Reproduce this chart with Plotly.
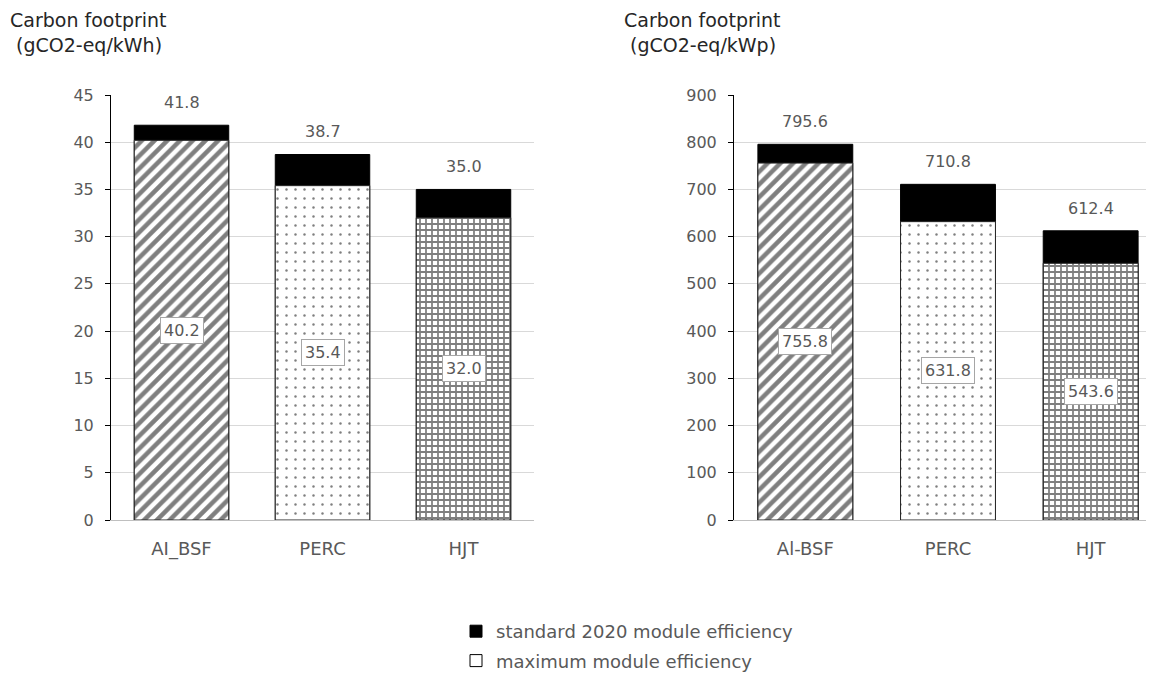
import plotly.graph_objects as go

cats_left = ["AI_BSF", "PERC", "HJT"]
cats_right = ["Al-BSF", "PERC", "HJT"]
std_kwh = [41.8, 38.7, 35.0]
max_kwh = [40.2, 35.4, 32.0]
std_kwp = [795.6, 710.8, 612.4]
max_kwp = [755.8, 631.8, 543.6]
patterns = ["/", ".", "+"]
legend_names = ["standard 2020 module efficiency", "maximum module efficiency"]
titles = ["Carbon footprint<br> (gCO2-eq/kWh)", "Carbon footprint<br> (gCO2-eq/kWp)"]

FONT = "DejaVu Sans"
GREY = "#595959"
W, H = 1154, 675
OFF = 8  # page body margin


def px(xw):
    return (xw - OFF) / W


def py(yw):
    return 1 - (yw - OFF) / H


fig = go.Figure()

panels = [
    (cats_left, std_kwh, max_kwh, "x", "y", 0.67),
    (cats_right, std_kwp, max_kwp, "x2", "y2", 0.665),
]
annotations = []
for i, (cats, std, mx, xa, ya, bw) in enumerate(panels):
    fig.add_trace(go.Bar(
        x=cats, y=std, xaxis=xa, yaxis=ya, width=bw,
        marker=dict(color="black", line=dict(color="black", width=1)),
        name=legend_names[0], showlegend=(i == 0), legendgroup="a",
        hoverinfo="y",
    ))
    fig.add_trace(go.Bar(
        x=cats, y=mx, xaxis=xa, yaxis=ya, width=bw,
        marker=dict(color="white",
                    line=dict(color="#262626", width=1),
                    pattern=dict(shape=patterns, fgcolor="black", bgcolor="white",
                                 size=[9, 9, 6], solidity=[0.5, 0.06, 0.5],
                                 fillmode="overlay")),
        name=legend_names[1], showlegend=False, hoverinfo="y",
    ))
    for c, s, m in zip(cats, std, mx):
        annotations.append(dict(x=c, y=s, xref=xa, yref=ya, text=f"{s:.1f}", showarrow=False,
                                yanchor="bottom", yshift=11,
                                font=dict(family=FONT, size=16, color=GREY)))
        annotations.append(dict(x=c, y=m / 2, xref=xa, yref=ya, text=f"{m:.1f}", showarrow=False,
                                bgcolor="white", bordercolor="#a6a6a6", borderwidth=1, borderpad=3,
                                font=dict(family=FONT, size=16, color=GREY)))

# legend-only entry for the white box
fig.add_trace(go.Bar(x=[None], y=[None], name=legend_names[1], legendgroup="b",
                     marker=dict(color="white", line=dict(color="black", width=1))))

for tx, t in zip([8, 622], titles):
    annotations.append(dict(x=px(tx), y=py(7), xref="paper", yref="paper", xanchor="left",
                            yanchor="top", align="left", text=t, showarrow=False,
                            font=dict(family=FONT, size=19, color="#262626")))

ydom = [py(520), py(95)]
tick_font = dict(family=FONT, size=16, color=GREY)
cat_font = dict(family=FONT, size=18, color=GREY)
fig.update_layout(
    width=W, height=H,
    margin=dict(l=0, r=0, t=0, b=0, autoexpand=False),
    paper_bgcolor="white", plot_bgcolor="white",
    barmode="overlay",
    font=dict(family=FONT, color=GREY),
    xaxis=dict(domain=[px(111), px(534)], range=[-0.5, 2.5], tickfont=cat_font,
               showline=True, linecolor="#bfbfbf", linewidth=1, ticks="", showgrid=False,
               automargin=False, ticklabelstandoff=12),
    yaxis=dict(domain=ydom, range=[0, 45], dtick=5, tickfont=tick_font, showgrid=True,
               gridcolor="#d9d9d9", showline=True, linecolor="black", linewidth=1,
               ticks="outside", ticklen=5, tickcolor="black", zeroline=False, automargin=False,
               ticklabelstandoff=8),
    xaxis2=dict(domain=[px(734), 1.0], range=[-0.5, 2.5], tickfont=cat_font,
                showline=True, linecolor="#bfbfbf", linewidth=1, ticks="", showgrid=False,
                anchor="y2", automargin=False, ticklabelstandoff=12),
    yaxis2=dict(domain=ydom, range=[0, 900], dtick=100, tickfont=tick_font, showgrid=True,
                gridcolor="#d9d9d9", showline=True, linecolor="black", linewidth=1,
                ticks="outside", ticklen=5, tickcolor="black", zeroline=False, anchor="x2",
                automargin=False, ticklabelstandoff=8),
    legend=dict(x=px(456), y=py(613), xanchor="left", yanchor="top",
                orientation="v", traceorder="grouped", tracegroupgap=3,
                font=dict(family=FONT, size=18, color=GREY), itemwidth=30),
    annotations=annotations,
    showlegend=True,
)

fig.write_html("out.html")
